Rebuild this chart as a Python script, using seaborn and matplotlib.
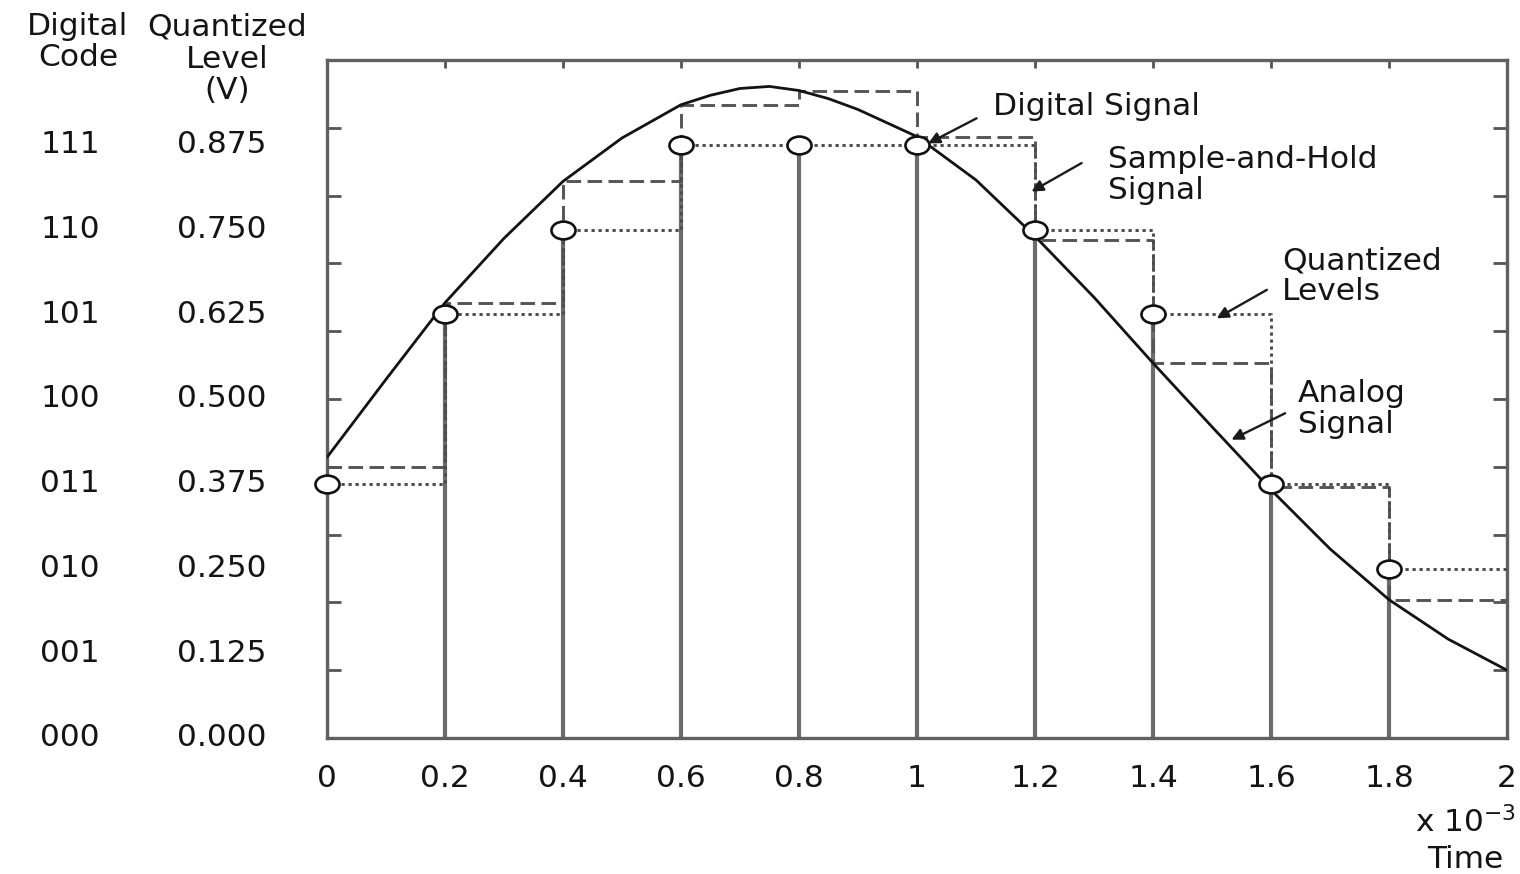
import numpy as np
import pandas as pd
import matplotlib
matplotlib.use("Agg")
import matplotlib.pyplot as plt
import matplotlib.transforms as mtransforms
from matplotlib.path import Path
import seaborn as sns

# ---- data -------------------------------------------------------------
# analog signal (time in ms, amplitude in V)
analog_t = [0.0, 0.1, 0.2, 0.3, 0.4, 0.5, 0.6, 0.65, 0.7, 0.75, 0.8, 0.85,
            0.9, 1.0, 1.1, 1.2, 1.3, 1.4, 1.5, 1.6, 1.7, 1.8, 1.9, 2.0]
analog_v = [0.414, 0.529, 0.642, 0.737, 0.821, 0.885, 0.934, 0.948, 0.958,
            0.961, 0.955, 0.943, 0.927, 0.887, 0.823, 0.740, 0.650, 0.553,
            0.459, 0.366, 0.279, 0.204, 0.146, 0.100]

# sampling instants and the values held / quantized at each one
sample_t = [0.0, 0.2, 0.4, 0.6, 0.8, 1.0, 1.2, 1.4, 1.6, 1.8]
held_v = [0.400, 0.642, 0.821, 0.934, 0.955, 0.887, 0.735, 0.553, 0.370, 0.204]
quant_v = [0.375, 0.625, 0.750, 0.875, 0.875, 0.875, 0.750, 0.625, 0.375, 0.250]
t_end = 2.0

# 3-bit code table
codes = ["000", "001", "010", "011", "100", "101", "110", "111"]
levels = [0.000, 0.125, 0.250, 0.375, 0.500, 0.625, 0.750, 0.875]

x_ticks = [0, 0.2, 0.4, 0.6, 0.8, 1, 1.2, 1.4, 1.6, 1.8, 2]
x_tick_labels = ["0", "0.2", "0.4", "0.6", "0.8", "1", "1.2", "1.4", "1.6", "1.8", "2"]

# ---- style -------------------------------------------------------------
sns.set_theme(style="ticks")
plt.rcParams["font.family"] = ["DejaVu Sans"]
TXT = "#141414"
FS = 22.5

W, H = 1520, 874
fig = plt.figure(figsize=(W / 100, H / 100), dpi=100)
ax = fig.add_axes([327 / W, 1 - 738 / H, (1507 - 327) / W, (738 - 60) / H])

# step curves (hold value until the next sample, then to the end of the window)
step_t = list(sample_t) + [t_end]
held_df = pd.DataFrame({"t": step_t, "v": list(held_v) + [held_v[-1]]})
quant_df = pd.DataFrame({"t": step_t, "v": list(quant_v) + [quant_v[-1]]})
analog_df = pd.DataFrame({"t": analog_t, "v": analog_v})
samples_df = pd.DataFrame({"t": sample_t, "v": quant_v})

# digital signal: stems from zero to the quantized level
ax.vlines(sample_t, 0, quant_v, colors="#6c6c6c", linewidth=3.0, zorder=2)

sns.lineplot(data=held_df, x="t", y="v", ax=ax, drawstyle="steps-post",
             color="#555555", linewidth=2.1, linestyle=(0, (5, 2.2)),
             sort=False, estimator=None, zorder=3)
sns.lineplot(data=quant_df, x="t", y="v", ax=ax, drawstyle="steps-post",
             color="#4a4a4a", linewidth=2.1, linestyle=(0, (1.1, 1.3)),
             sort=False, estimator=None, zorder=3)
sns.lineplot(data=analog_df, x="t", y="v", ax=ax, color="#131313",
             linewidth=2.0, sort=False, estimator=None, zorder=4)

# open elliptical markers at the quantized samples
circ = Path.unit_circle()
ellipse = Path(circ.vertices * np.array([1.0, 0.74]), circ.codes)
sns.scatterplot(data=samples_df, x="t", y="v", ax=ax, marker=ellipse, s=300,
                facecolor="white", edgecolor="#111111", linewidth=1.9,
                zorder=6, clip_on=False)

# axes
ax.set_xlim(0, 2)
ax.set_ylim(0, 1)
ax.set_xticks(x_ticks)
ax.set_xticklabels(x_tick_labels)
ax.set_yticks(np.arange(0, 1.0001, 0.1))
ax.set_yticklabels([])
ax.set_xlabel("")
ax.set_ylabel("")
ax.tick_params(axis="x", direction="in", length=6, width=2, color="#555555",
               top=True, bottom=True, labelsize=FS, labelcolor=TXT, pad=19)
ax.tick_params(axis="y", direction="in", length=10, width=2, color="#555555",
               left=True, right=True, labelleft=False)
for sp in ax.spines.values():
    sp.set_visible(True)
    sp.set_color("#606060")
    sp.set_linewidth(2.4)

# code / level table to the left of the axes
blend = mtransforms.blended_transform_factory(fig.transFigure, ax.transData)
for c, lv in zip(codes, levels):
    fig.text(70 / W, lv, c, transform=blend, ha="center", va="center",
             fontsize=FS, color=TXT)
    fig.text(222 / W, lv, f"{lv:.3f}", transform=blend, ha="center",
             va="center", fontsize=FS, color=TXT)

fig.text(78 / W, 1 - 42 / H, "Digital\nCode", ha="center", va="center",
         fontsize=FS, color=TXT, linespacing=1.12)
fig.text(227 / W, 1 - 59 / H, "Quantized\nLevel\n(V)", ha="center",
         va="center", fontsize=FS, color=TXT, linespacing=1.12)

# time axis label and scale factor
fig.text(1465 / W, 1 - 822 / H, "x 10$^{-3}$", ha="center", va="center",
         fontsize=FS, color=TXT)
fig.text(1465 / W, 1 - 860 / H, "Time", ha="center", va="center",
         fontsize=FS, color=TXT)

# callouts
arrow = dict(arrowstyle="-|>", color="#1a1a1a", lw=1.7, mutation_scale=17,
             shrinkA=0, shrinkB=0)
notes = [
    ("Digital Signal", (1.129, 0.931), (1.101, 0.914), (1.019, 0.877)),
    ("Sample-and-Hold\nSignal", (1.324, 0.830), (1.279, 0.848), (1.194, 0.806)),
    ("Quantized\nLevels", (1.619, 0.681), (1.593, 0.661), (1.508, 0.619)),
    ("Analog\nSignal", (1.646, 0.485), (1.624, 0.479), (1.533, 0.440)),
]
for label, txt_xy, tail, head in notes:
    ax.text(txt_xy[0], txt_xy[1], label, ha="left", va="center", fontsize=FS,
            color=TXT, linespacing=1.08, zorder=7)
    ax.annotate("", xy=head, xytext=tail, arrowprops=arrow, zorder=7)

fig.savefig("out.png", dpi=100, facecolor="white")
